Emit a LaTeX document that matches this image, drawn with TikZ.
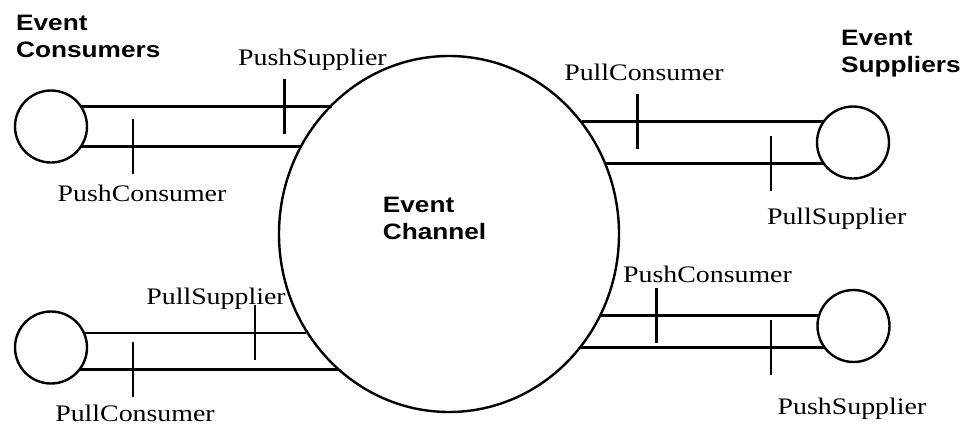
\documentclass[tikz,border=0pt]{standalone}
\usepackage{fontspec}
\setmainfont{Liberation Serif}
\newfontfamily\headfont{Liberation Sans}
\usetikzlibrary{shapes.geometric}
\newcommand\lbltxt[1]{\scalebox{1.175}[1]{\fontsize{23.7}{28}\selectfont #1}}
\newcommand\headtxt[1]{\scalebox{1.175}[1]{\fontsize{22.3}{27}\selectfont\headfont\bfseries\begin{tabular}[t]{@{}l@{}}#1\end{tabular}}}
\begin{document}
\begin{tikzpicture}[x=1pt,y=-1pt,line width=2.4pt,
  ring/.style={circle,draw,minimum size=72pt,inner sep=0pt,outer sep=0pt},
  chan/.style={ellipse,draw,minimum width=340pt,minimum height=356pt,inner sep=0pt,outer sep=0pt},
  lbl/.style={anchor=base,inner sep=0pt},
  head/.style={anchor=base west,inner sep=0pt},
  wire/.style={line width=2.4pt},
  tickmark/.style={line width=2.4pt}]
\useasboundingbox (0,0) rectangle (967,426);

% event channel
\node[chan] (ch) at (449,234) {};
\node[head] (chl) at (381.7,212.3) {\headtxt{Event\\Channel}};

% consumers and suppliers
\node[ring] (tl) at (51,126.5) {};
\node[ring] (bl) at (51,347.5) {};
\node[ring] (tr) at (853,142.5) {};
\node[ring] (br) at (853.5,326) {};

\node[head] (cons) at (15,30) {\headtxt{Event\\Consumers}};
\node[head] (supp) at (840,45.7) {\headtxt{Event\\Suppliers}};

% wires
\draw[wire] (tl.34.7) -- coordinate[pos=0.809] (k1) (tl.34.7 -| ch.132.7);
\draw[wire] (tl.-34.1) -- coordinate[pos=0.237] (k2) (tl.-34.1 -| ch.149.5);
\draw[wire] (bl.24.3) -- coordinate[pos=0.770] (k3) (bl.24.3 -| ch.214.9);
\draw[wire] (bl.-38.7) -- coordinate[pos=0.207] (k4) (bl.-38.7 -| ch.231.1);
\draw[wire] (tr.144.7) -- coordinate[pos=0.769] (k5) (tr.144.7 -| ch.40.4);
\draw[wire] (tr.216.7) -- coordinate[pos=0.243] (k6) (tr.216.7 -| ch.24.1);
\draw[wire] (br.163.9) -- coordinate[pos=0.744] (k7) (br.163.9 -| ch.-28.5);
\draw[wire] (br.217.7) -- coordinate[pos=0.220] (k8) (br.217.7 -| ch.-41.1);

% interface ticks
\foreach \k in {k1,k2,k3,k4,k5,k6,k7,k8}
  \draw[tickmark] ([yshift=27.5pt]\k) -- ([yshift=-27.5pt]\k);

% labels
\node[lbl] (t1) at (312.5,65) {\lbltxt{PushSupplier}};
\node[lbl] (t2) at (142,201.7) {\lbltxt{PushConsumer}};
\node[lbl] (t3) at (216,304) {\lbltxt{PullSupplier}};
\node[lbl] (t4) at (135,421) {\lbltxt{PullConsumer}};
\node[lbl] (t5) at (644,80.7) {\lbltxt{PullConsumer}};
\node[lbl] (t6) at (836.7,224.3) {\lbltxt{PullSupplier}};
\node[lbl] (t7) at (707.5,282.7) {\lbltxt{PushConsumer}};
\node[lbl] (t8) at (852,414) {\lbltxt{PushSupplier}};
\end{tikzpicture}
\end{document}
